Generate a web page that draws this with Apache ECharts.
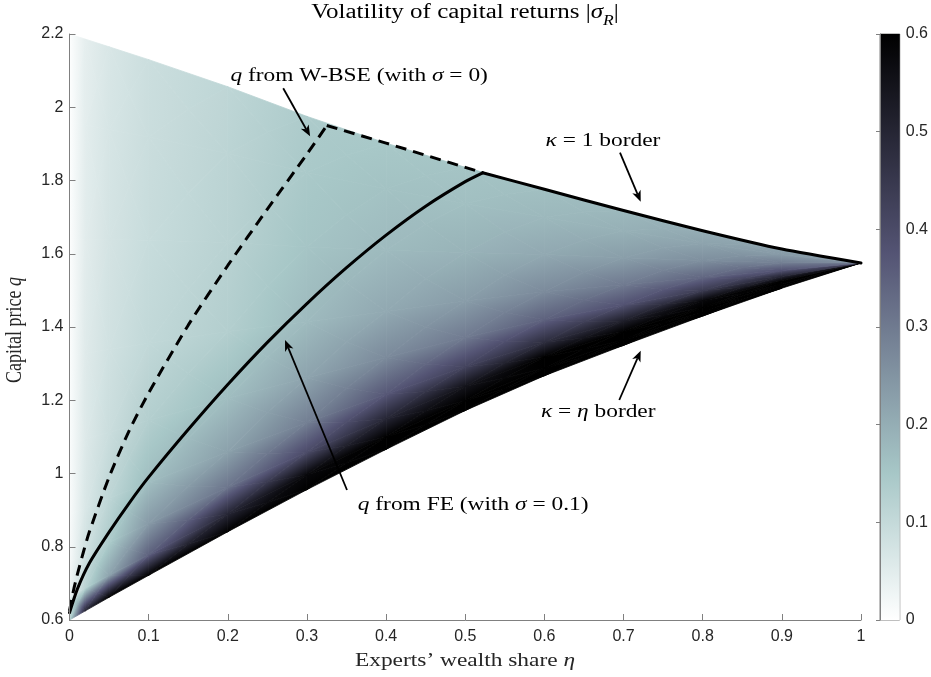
<!DOCTYPE html>
<html>
<head>
<meta charset="utf-8">
<script src="https://cdn.jsdelivr.net/npm/echarts@6/dist/echarts.min.js"></script>
<style>html,body{margin:0;padding:0;background:#fff}#chart{width:931px;height:677px}</style>
</head>
<body>
<div id="chart"></div>
<script>
// ---------------- data ----------------
const etaCols = [0, 0.02, 0.05, 0.1, 0.2, 0.3, 0.4, 0.5, 0.6, 0.7, 0.8, 0.9, 1];
const qLower = [0.600, 0.625, 0.662, 0.722, 0.841, 0.956, 1.066, 1.172, 1.267, 1.350, 1.430, 1.506, 1.575];
const qUpper = [2.200, 2.186, 2.165, 2.130, 2.056, 1.975, 1.902, 1.836, 1.776, 1.718, 1.663, 1.613, 1.575];
const tLevels = [0, 0.04, 0.1, 0.18, 0.3, 0.45, 0.65, 0.85, 1];
const sigT000 = [0.12, 0.50, 0.60, 0.60, 0.60, 0.60, 0.60, 0.60, 0.60, 0.60, 0.60, 0.60, 0.60];
const sigT004 = [0.03, 0.12, 0.22, 0.35, 0.50, 0.58, 0.60, 0.60, 0.60, 0.60, 0.60, 0.60, 0.60];
const sigT010 = [0.015, 0.08, 0.14, 0.24, 0.31, 0.40, 0.50, 0.55, 0.60, 0.60, 0.60, 0.60, 0.60];
const sigT018 = [0.010, 0.065, 0.11, 0.17, 0.225, 0.29, 0.37, 0.42, 0.48, 0.52, 0.58, 0.60, 0.60];
const sigT030 = [0.008, 0.058, 0.09, 0.13, 0.17, 0.22, 0.27, 0.30, 0.35, 0.38, 0.44, 0.50, 0.55];
const sigT045 = [0.006, 0.055, 0.08, 0.105, 0.13, 0.175, 0.21, 0.235, 0.27, 0.30, 0.34, 0.38, 0.42];
const sigT065 = [0.005, 0.050, 0.074, 0.095, 0.12, 0.155, 0.175, 0.19, 0.21, 0.23, 0.26, 0.29, 0.32];
const sigT085 = [0.004, 0.047, 0.070, 0.090, 0.115, 0.145, 0.16, 0.165, 0.18, 0.195, 0.22, 0.24, 0.26];
const sigT100 = [0.004, 0.045, 0.066, 0.088, 0.11, 0.14, 0.148, 0.155, 0.165, 0.18, 0.20, 0.22, 0.24];
const sigmaLevels = [sigT000, sigT004, sigT010, sigT018, sigT030, sigT045, sigT065, sigT085, sigT100];

const feEta = [0, 0.01, 0.025, 0.05, 0.075, 0.1, 0.15, 0.2, 0.25, 0.3, 0.35, 0.4, 0.45, 0.5, 0.522];
const feQ   = [0.62, 0.685, 0.755, 0.84, 0.918, 0.99, 1.12, 1.243, 1.358, 1.464, 1.562, 1.651, 1.73, 1.797, 1.821];
const wbEta = [0, 0.005, 0.01, 0.0175, 0.025, 0.05, 0.075, 0.1, 0.15, 0.2, 0.25, 0.3, 0.325];
const wbQ   = [0.625, 0.68, 0.725, 0.785, 0.84, 0.99, 1.115, 1.22, 1.405, 1.568, 1.722, 1.872, 1.95];

const annoText = ['{i|q} from W-BSE (with {i|σ} = 0)', '{i|κ} = 1 border', '{i|κ} = {i|η} border', '{i|q} from FE (with {i|σ} = 0.1)'];
const annoTextEta = [0.366, 0.674, 0.668, 0.510];
const annoTextQ   = [2.085, 1.908, 1.168, 0.914];
const arrowTailEta = [0.270, 0.6955, 0.6946, 0.3506];
const arrowTailQ   = [2.052, 1.876, 1.2007, 0.955];
const arrowTipEta  = [0.304, 0.7217, 0.7217, 0.2723];
const arrowTipQ    = [1.921, 1.742, 1.3353, 1.3645];

// ---------------- colour map (reversed "bone") ----------------
const CMAP = [[0, [255, 255, 255]], [0.15, [167, 199, 199]], [0.375, [84, 84, 116]], [0.6, [0, 0, 0]]];
function cmap(v) {
  v = Math.max(0, Math.min(0.6, v));
  for (let k = 0; k < CMAP.length - 1; k++) {
    const [v0, c0] = CMAP[k], [v1, c1] = CMAP[k + 1];
    if (v <= v1) {
      const f = (v - v0) / (v1 - v0);
      return [0, 1, 2].map(n => Math.round(c0[n] + (c1[n] - c0[n]) * f));
    }
  }
  return CMAP[CMAP.length - 1][1];
}
function rgb(c) { return 'rgb(' + c[0] + ',' + c[1] + ',' + c[2] + ')'; }

function tri(p1, p2, p3) {
  const dx2 = p2.x - p1.x, dy2 = p2.y - p1.y, dx3 = p3.x - p1.x, dy3 = p3.y - p1.y;
  const det = dx2 * dy3 - dx3 * dy2;
  if (Math.abs(det) < 1e-3) return null;
  const dv2 = p2.v - p1.v, dv3 = p3.v - p1.v;
  const ga = (dv2 * dy3 - dv3 * dy2) / det, gb = (dx2 * dv3 - dx3 * dv2) / det;
  let mn = p1, mx = p1;
  [p1, p2, p3].forEach(p => { if (p.v < mn.v) mn = p; if (p.v > mx.v) mx = p; });
  const dv = mx.v - mn.v, g2 = ga * ga + gb * gb;
  let fill;
  if (dv < 1e-6 || g2 < 1e-14) {
    fill = rgb(cmap((p1.v + p2.v + p3.v) / 3));
  } else {
    const s = dv / g2;
    const stops = [{ offset: 0, color: rgb(cmap(mn.v)) }];
    CMAP.forEach(([bv]) => { if (bv > mn.v && bv < mx.v) stops.push({ offset: (bv - mn.v) / dv, color: rgb(cmap(bv)) }); });
    stops.push({ offset: 1, color: rgb(cmap(mx.v)) });
    fill = new echarts.graphic.LinearGradient(mn.x, mn.y, mn.x + ga * s, mn.y + gb * s, stops, true);
  }
  return { type: 'polygon', shape: { points: [[p1.x, p1.y], [p2.x, p2.y], [p3.x, p3.y]] }, style: { fill: fill, stroke: fill, lineWidth: 0.8 } };
}
function renderCell(params, api) {
  const i = api.value(0), j = api.value(1);
  const P = (ii, jj) => {
    const lo = qLower[ii], hi = qUpper[ii];
    const p = api.coord([etaCols[ii], lo + tLevels[jj] * (hi - lo)]);
    return { x: p[0], y: p[1], v: sigmaLevels[jj][ii] };
  };
  const a = P(i, j), b = P(i + 1, j), c = P(i + 1, j + 1), d = P(i, j + 1);
  const quad = [a, b, c, d];
  const good = [];
  quad.forEach(p => { if (!good.some(g => Math.abs(g.x - p.x) < 1e-6 && Math.abs(g.y - p.y) < 1e-6)) good.push(p); });
  let children;
  if (good.length < 4) {
    children = [tri(a, b, c), tri(a, c, d)].filter(Boolean);
  } else {
    const m = { x: (a.x + b.x + c.x + d.x) / 4, y: (a.y + b.y + c.y + d.y) / 4, v: (a.v + b.v + c.v + d.v) / 4 };
    children = [tri(a, b, m), tri(b, c, m), tri(c, d, m), tri(d, a, m)].filter(Boolean);
  }
  return { type: 'group', children: children };
}
const cells = [];
for (let i = 0; i < etaCols.length - 1; i++) for (let j = 0; j < tLevels.length - 1; j++) cells.push([i, j]);

// ---------------- line data ----------------
const feLine = feEta.map((e, k) => [e, feQ[k]]);
const kinkFE = feLine[feLine.length - 1];
const borderLine = [kinkFE];
etaCols.forEach((e, k) => { if (e > kinkFE[0]) borderLine.push([e, qUpper[k]]); });
const wbLine = wbEta.map((e, k) => [e, wbQ[k]]);
const wbBorder = [wbLine[wbLine.length - 1]];
etaCols.forEach((e, k) => { if (e > wbEta[wbEta.length - 1] && e < kinkFE[0]) wbBorder.push([e, qUpper[k]]); });
wbBorder.push(kinkFE);

// ---------------- annotations ----------------
const SERIF = '"Liberation Serif", "Times New Roman", serif';
const STRETCH = 1.3;
function renderAnno(params, api) {
  const children = [];
  for (let k = 0; k < annoText.length; k++) {
    const t = api.coord([annoTextEta[k], annoTextQ[k]]);
    children.push({
      type: 'text', x: t[0], y: t[1], scaleX: STRETCH,
      style: { text: annoText[k], font: '18px ' + SERIF, fill: '#000', align: 'center', verticalAlign: 'middle',
        rich: { i: { fontStyle: 'italic', fontFamily: SERIF, fontSize: 18, fill: '#000' } } }
    });
    const a = api.coord([arrowTailEta[k], arrowTailQ[k]]);
    const b = api.coord([arrowTipEta[k], arrowTipQ[k]]);
    const dx = b[0] - a[0], dy = b[1] - a[1], L = Math.sqrt(dx * dx + dy * dy);
    const ux = dx / L, uy = dy / L, nx = -uy, ny = ux;
    const hl = 11, hw = 4.5, notch = 3;
    children.push({ type: 'line', shape: { x1: a[0], y1: a[1], x2: b[0] - ux * (hl - notch), y2: b[1] - uy * (hl - notch) },
      style: { stroke: '#000', lineWidth: 1.8 } });
    children.push({ type: 'polygon', shape: { points: [
      [b[0], b[1]],
      [b[0] - ux * hl + nx * hw, b[1] - uy * hl + ny * hw],
      [b[0] - ux * (hl - notch), b[1] - uy * (hl - notch)],
      [b[0] - ux * hl - nx * hw, b[1] - uy * hl - ny * hw]
    ] }, style: { fill: '#000' } });
  }
  return { type: 'group', children: children };
}

function renderBar(params, api) {
  const p0 = api.coord([0, 0]), p1 = api.coord([1, 0.6]);
  const stops = CMAP.map(([v, c]) => ({ offset: v / 0.6, color: rgb(c) }));
  const fill = new echarts.graphic.LinearGradient(0, p0[1], 0, p1[1], stops, true);
  return { type: 'rect', shape: { x: p0[0], y: p1[1], width: p1[0] - p0[0], height: p0[1] - p1[1] }, style: { fill: fill } };
}

const fmt = v => String(parseFloat(v.toFixed(2)));
const SANS = '"Liberation Sans", Arial, Helvetica, sans-serif';
const AXCOL = '#808080';
const tickLabel = { color: '#262626', fontFamily: SANS, fontSize: 16, formatter: fmt };
const italic = { fontStyle: 'italic', fontFamily: SERIF, fontSize: 18, fill: '#262626' };

const chart = echarts.init(document.getElementById('chart'), null, { renderer: 'canvas' });
chart.setOption({
  animation: false,
  backgroundColor: '#fff',
  graphic: [
    { type: 'text', x: 465, y: 13, scaleX: 1.25, silent: true,
      style: { text: 'Volatility of capital returns |{i|σ}{s|R}|', font: '20px ' + SERIF, fill: '#000', align: 'center', verticalAlign: 'middle',
        rich: { i: { fontStyle: 'italic', fontFamily: SERIF, fontSize: 20, fill: '#000' },
                s: { fontStyle: 'italic', fontFamily: SERIF, fontSize: 14, fill: '#000', verticalAlign: 'bottom', lineHeight: 30 } } } },
    { type: 'text', x: 465, y: 661, scaleX: STRETCH, silent: true,
      style: { text: 'Experts’ wealth share {i|η}', font: '18px ' + SERIF, fill: '#262626', align: 'center', verticalAlign: 'middle', rich: { i: italic } } },
    { type: 'text', x: 15, y: 330, rotation: Math.PI / 2, scaleY: STRETCH, silent: true,
      style: { text: 'Capital price {i|q}', font: '18px ' + SERIF, fill: '#262626', align: 'center', verticalAlign: 'middle', rich: { i: italic } } }
  ],
  grid: [
    { left: 69.5, right: 70, top: 34, bottom: 57 },
    { left: 880, width: 25, top: 34, bottom: 57, show: true, borderColor: AXCOL, borderWidth: 1, backgroundColor: 'transparent' }
  ],
  xAxis: [
    { type: 'value', gridIndex: 0, min: 0, max: 1, interval: 0.1, z: 5,
      axisLine: { show: true, lineStyle: { color: AXCOL, width: 1 } },
      axisTick: { show: true, inside: true, length: 6, lineStyle: { color: AXCOL } },
      axisLabel: Object.assign({ margin: 9 }, tickLabel),
      splitLine: { show: false } },
    { type: 'value', gridIndex: 1, min: 0, max: 1, show: false }
  ],
  yAxis: [
    { type: 'value', gridIndex: 0, min: 0.6, max: 2.2, interval: 0.2, z: 5,
      axisLine: { show: true, lineStyle: { color: AXCOL, width: 1 } },
      axisTick: { show: true, inside: true, length: 6, lineStyle: { color: AXCOL } },
      axisLabel: Object.assign({ margin: 6 }, tickLabel),
      splitLine: { show: false } },
    { type: 'value', gridIndex: 1, min: 0, max: 0.6, interval: 0.1, position: 'right', z: 5,
      axisLine: { show: true, lineStyle: { color: AXCOL, width: 1 } },
      axisTick: { show: true, inside: true, length: 4, lineStyle: { color: AXCOL } },
      axisLabel: Object.assign({ margin: 6 }, tickLabel),
      splitLine: { show: false } }
  ],
  series: [
    { type: 'custom', xAxisIndex: 0, yAxisIndex: 0, renderItem: renderCell, data: cells, silent: true, z: 1 },
    { type: 'line', xAxisIndex: 0, yAxisIndex: 0, data: wbLine, symbol: 'none', silent: true, z: 3, smooth: 0.25,
      lineStyle: { color: '#000', width: 3, type: [11, 7] } },
    { type: 'line', xAxisIndex: 0, yAxisIndex: 0, data: wbBorder, symbol: 'none', silent: true, z: 3,
      lineStyle: { color: '#000', width: 3, type: [11, 7] } },
    { type: 'line', xAxisIndex: 0, yAxisIndex: 0, data: feLine, symbol: 'none', silent: true, z: 3, smooth: 0.2,
      lineStyle: { color: '#000', width: 3, cap: 'round' } },
    { type: 'line', xAxisIndex: 0, yAxisIndex: 0, data: borderLine, symbol: 'none', silent: true, z: 3, smooth: 0.2,
      lineStyle: { color: '#000', width: 3, cap: 'round', join: 'round' } },
    { type: 'custom', xAxisIndex: 0, yAxisIndex: 0, renderItem: renderAnno, data: [[0, 0]], silent: true, z: 4 },
    { type: 'custom', xAxisIndex: 1, yAxisIndex: 1, renderItem: renderBar, data: [[0, 0]], silent: true, z: 1 }
  ]
});
</script>
</body>
</html>
